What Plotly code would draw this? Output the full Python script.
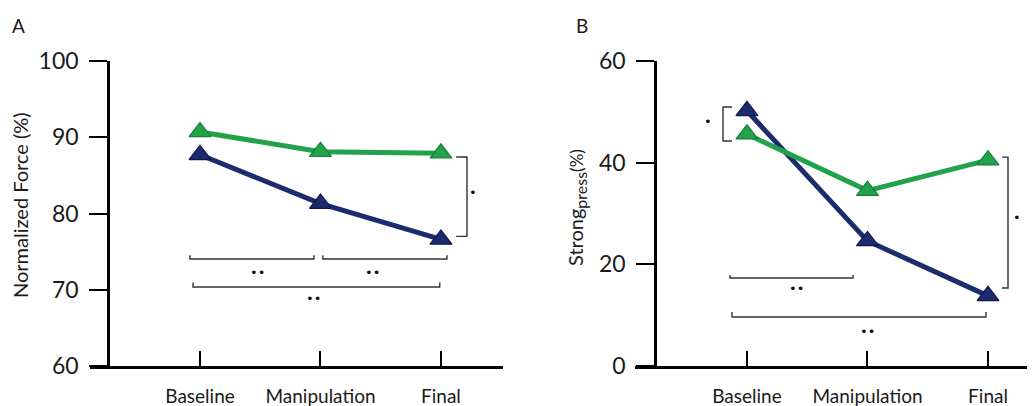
import plotly.graph_objects as go

# ---------------- data ----------------
categories = ["Baseline", "Manipulation", "Final"]
force_green = [90.7, 88.1, 87.9]
force_navy = [87.7, 81.3, 76.6]
strong_green = [45.6, 34.5, 40.5]
strong_navy = [50.2, 24.6, 13.8]
force_ticks = [60, 70, 80, 90, 100]
strong_ticks = [0, 20, 40, 60]

# ---------------- style ----------------
OFF = 8                      # default page body margin
W, H = 1035 - OFF, 406 - OFF
GREEN, GREEN_EDGE = "#22a24b", "#15803a"
NAVY, NAVY_EDGE = "#1c2b6d", "#0e1850"
FONT = "Lato"
TXT = "#1a1a1a"


def px_x(p):
    return (p - OFF) / W


def px_y(p):
    return 1 - (p - OFF) / H


xpos = list(range(len(categories)))

fig = go.Figure()


def add_series(xa, ya, yvals, color, edge):
    fig.add_trace(go.Scatter(
        x=xpos, y=yvals, xaxis=xa, yaxis=ya, mode="lines+markers",
        line=dict(color=color, width=5),
        marker=dict(symbol="triangle-up", size=19, color=color,
                    line=dict(color=edge, width=1.2)),
        showlegend=False, hoverinfo="skip", cliponaxis=False))


add_series("x", "y", force_navy, NAVY, NAVY_EDGE)
add_series("x", "y", force_green, GREEN, GREEN_EDGE)
add_series("x2", "y2", strong_navy, NAVY, NAVY_EDGE)
add_series("x2", "y2", strong_green, GREEN, GREEN_EDGE)

ydom = [px_y(366), px_y(61)]
axis_common = dict(showline=True, linecolor="#000", linewidth=2.6,
                   showgrid=False, zeroline=False, tickcolor="#000",
                   tickwidth=2.2, automargin=False)
xfont = dict(size=19, family=FONT, color=TXT)
yfont = dict(size=23, family=FONT, color=TXT)

fig.update_layout(
    width=W, height=H, margin=dict(l=0, r=0, t=0, b=0, autoexpand=False),
    paper_bgcolor="white", plot_bgcolor="white",
    font=dict(family=FONT, color=TXT),
    xaxis=dict(domain=[px_x(90), px_x(503)], range=[-0.913, 2.515],
               anchor="y", tickvals=xpos, ticktext=categories,
               ticks="inside", ticklen=15, ticklabelstandoff=11,
               tickfont=xfont, **axis_common),
    yaxis=dict(domain=ydom, range=[60, 100], anchor="free",
               position=px_x(108), tickvals=force_ticks,
               ticks="outside", ticklen=18, ticklabelstandoff=6,
               tickfont=yfont, **axis_common),
    xaxis2=dict(domain=[px_x(635), 1.0], range=[-0.929, 2.39],
                anchor="y2", tickvals=xpos, ticktext=categories,
                ticks="inside", ticklen=15, ticklabelstandoff=11,
                tickfont=xfont, **axis_common),
    yaxis2=dict(domain=ydom, range=[0, 60], anchor="free",
                position=px_x(655), tickvals=strong_ticks,
                ticks="outside", ticklen=18, ticklabelstandoff=6,
                tickfont=yfont, **axis_common),
)

# ---------------- significance brackets ----------------
BR = dict(color="#333", width=1.4)


def hbracket(xr, yr, x0, x1, y, tick):
    fig.add_shape(type="path", xref=xr, yref=yr, line=BR,
                  path=f"M{x0},{y + tick} L{x0},{y} L{x1},{y} L{x1},{y + tick}")


def vbracket(xr, yr, x, y0, y1, tick):
    fig.add_shape(type="path", xref=xr, yref=yr, line=BR,
                  path=f"M{x + tick},{y0} L{x},{y0} L{x},{y1} L{x + tick},{y1}")


def star(xr, yr, x, y, txt):
    fig.add_annotation(xref=xr, yref=yr, x=x, y=y, text=txt, showarrow=False,
                       xanchor="center", yanchor="middle",
                       font=dict(size=13, color="#111", family="DejaVu Sans"))


# panel A
hbracket("x", "y", -0.083, 0.946, 74.03, 0.5)
hbracket("x", "y", 1.02, 2.05, 74.03, 0.5)
hbracket("x", "y", -0.058, 1.99, 70.36, 0.6)
vbracket("x", "y", 2.216, 87.4, 77.0, -0.09)
star("x", "y", 0.48, 72.3, "••")
star("x", "y", 1.43, 72.2, "••")
star("x", "y", 0.946, 68.8, "••")
star("x", "y", 2.27, 82.7, "•")

# panel B
vbracket("x2", "y2", -0.199, 50.95, 44.27, 0.075)
vbracket("x2", "y2", 2.166, 41.1, 15.35, -0.05)
hbracket("x2", "y2", -0.141, 0.88, 17.3, 0.6)
hbracket("x2", "y2", -0.124, 1.983, 9.64, 1.0)
star("x2", "y2", -0.324, 48.0, "•")
star("x2", "y2", 2.24, 29.3, "•")
star("x2", "y2", 0.415, 15.15, "••")
star("x2", "y2", 1.004, 6.69, "••")


# ---------------- titles / panel labels ----------------
def label(x, y, text, size, angle=0):
    fig.add_annotation(xref="paper", yref="paper", x=px_x(x), y=px_y(y),
                       text=text, textangle=angle, showarrow=False,
                       xanchor="center", yanchor="middle",
                       font=dict(size=size, family=FONT, color=TXT))


label(20, 205, "Normalized Force (%)", 20, -90)
label(577, 208, "Strong<sub><span style='font-size:16px'>press</span></sub>"
                "<span style='font-size:17px'>(%)</span>", 20, -90)
label(18, 26, "A", 19)
label(582, 26, "B", 19)

fig.write_html("out.html")
